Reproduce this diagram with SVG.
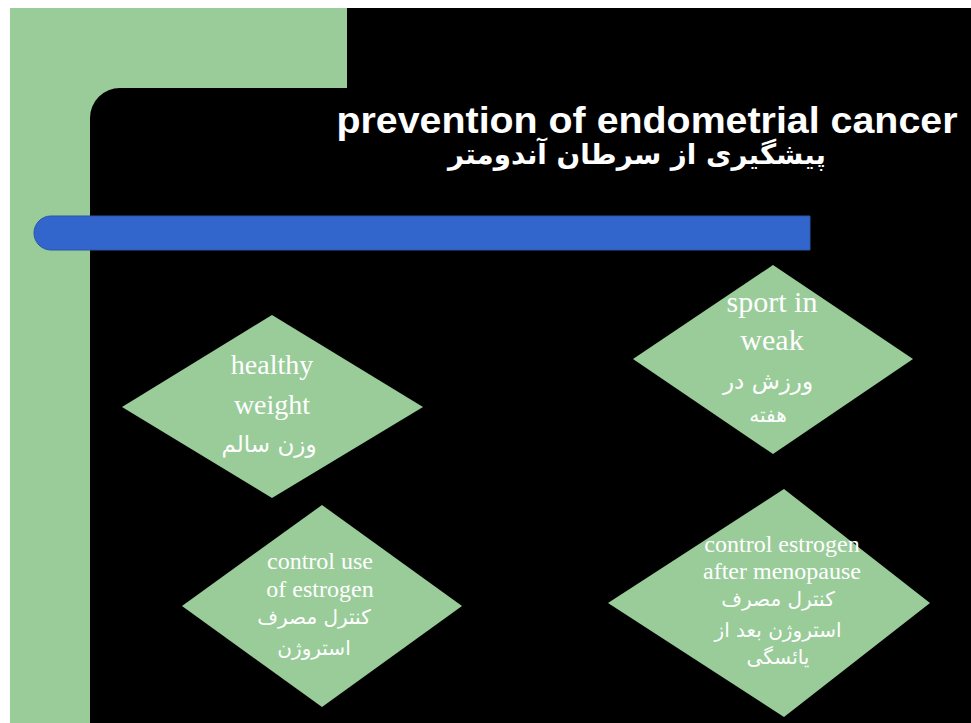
<svg xmlns="http://www.w3.org/2000/svg" width="971" height="723" viewBox="0 0 971 723">
<style>
.dia{fill:#99CC99;}
.en{font-family:"Liberation Serif","Times New Roman",serif;fill:#FFFFFF;text-anchor:middle;}
.fa{font-family:"DejaVu Sans","Noto Sans",sans-serif;fill:#FFFFFF;text-anchor:middle;}
.title{font-family:"Liberation Sans",Arial,sans-serif;font-weight:bold;fill:#FFFFFF;text-anchor:middle;}
</style>
<rect x="0" y="0" width="971" height="723" fill="#FFFFFF"/>
<rect x="10" y="8" width="961" height="715" fill="#000000"/>
<path d="M10,8 H347 V88 H120 A30,30 0 0 0 90,118 V723 H10 Z" fill="#99CC99"/>
<g id="title">
<text class="title" x="647" y="133" font-size="37" textLength="621" lengthAdjust="spacingAndGlyphs">prevention of endometrial cancer</text>
<text class="fa" x="637" y="164" font-size="28" font-weight="bold" textLength="378" lengthAdjust="spacingAndGlyphs">پیشگیری از  سرطان آندومتر</text>
</g>
<path id="bar" d="M810,216 H51 A17,17 0 0 0 51,250 H810 Z" fill="#3366CC" stroke="#2B55A8" stroke-width="1"/>
<g id="connectors"></g>
<g id="node-healthy-weight">
<polygon class="dia" points="272,315 423,407 272,498 122,407"/>
<text class="en" x="272" y="374" font-size="28">healthy</text>
<text class="en" x="272" y="414" font-size="28">weight</text>
<text class="fa" x="269" y="452" font-size="23">وزن سالم</text>
</g>
<g id="node-sport">
<polygon class="dia" points="773,265 913,359 773,454 633,359"/>
<text class="en" x="772" y="312" font-size="30">sport in</text>
<text class="en" x="772" y="350" font-size="30">weak</text>
<text class="fa" x="768" y="389" font-size="23">ورزش در</text>
<text class="fa" x="768" y="422" font-size="20">هفته</text>
</g>
<g id="node-control-use">
<polygon class="dia" points="322,505 462,606 322,707 182,606"/>
<text class="en" x="320" y="569" font-size="24">control use</text>
<text class="en" x="320" y="597" font-size="24">of estrogen</text>
<text class="fa" x="314" y="624" font-size="20">کنترل مصرف</text>
<text class="fa" x="314" y="655" font-size="20">استروژن</text>
</g>
<g id="node-control-after">
<polygon class="dia" points="784,489 930,603 784,717 608,603"/>
<text class="en" x="782" y="552" font-size="24">control estrogen</text>
<text class="en" x="782" y="579" font-size="24">after menopause</text>
<text class="fa" x="778" y="606" font-size="20">کنترل مصرف</text>
<text class="fa" x="778" y="637" font-size="20">استروژن بعد از</text>
<text class="fa" x="778" y="664" font-size="20">یائسگی</text>
</g>
</svg>
